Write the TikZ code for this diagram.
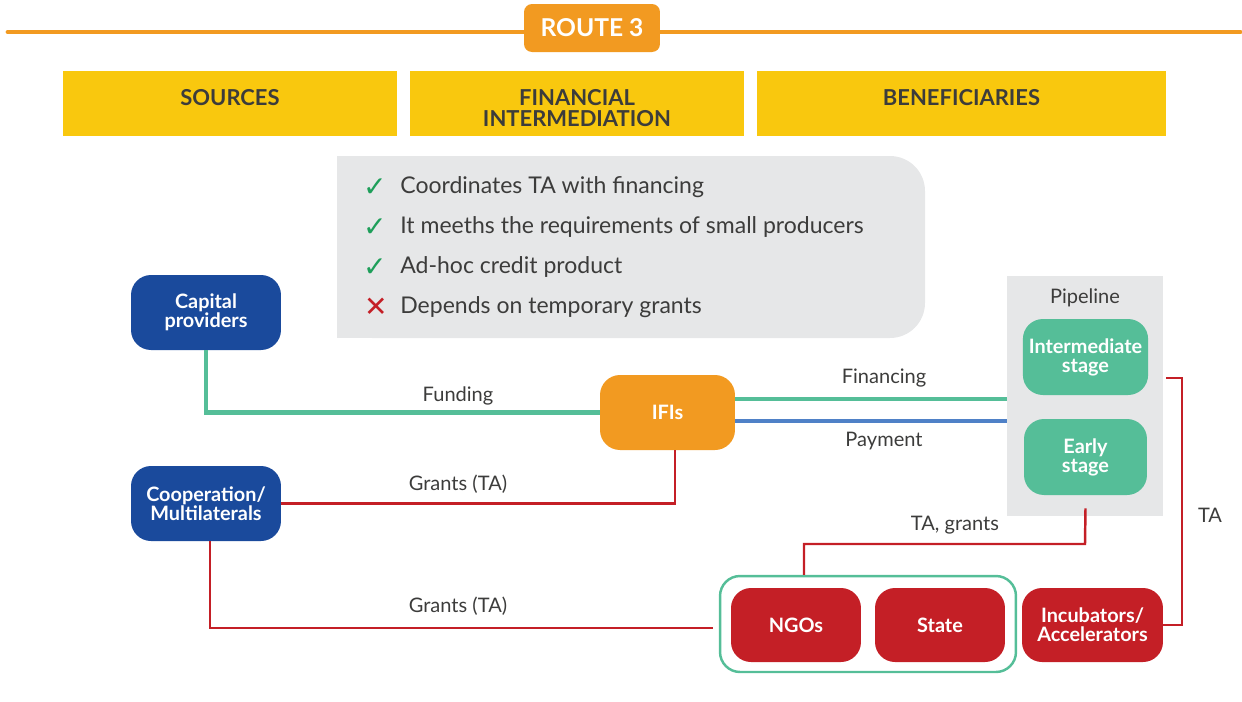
\documentclass[tikz,border=0pt]{standalone}
\usepackage{fontspec}
\setmainfont{Lato}
\newfontfamily\symfont{DejaVu Sans}
\usetikzlibrary{positioning}

\definecolor{routeorange}{HTML}{F29A21}
\definecolor{headyellow}{HTML}{F9C80E}
\definecolor{srcblue}{HTML}{1A4A9C}
\definecolor{stagegreen}{HTML}{55BE98}
\definecolor{benred}{HTML}{C41F26}
\definecolor{paylineblue}{HTML}{4F81C7}
\definecolor{panelgrey}{HTML}{E6E7E8}
\definecolor{txtgrey}{HTML}{3C3C3B}
\definecolor{tickgreen}{HTML}{1E9F5A}

\begin{document}
\begin{tikzpicture}[x=0.02cm,y=-0.02cm,
    headbox/.style={fill=headyellow, minimum height=1.3cm},
    headtxt/.style={align=center, text=txtgrey, font=\fontsize{12.5}{12}\selectfont\bfseries},
    actor/.style={rounded corners=0.4cm, align=center, text=white, minimum height=1.5cm,
        font=\fontsize{11.3}{10.8}\selectfont\bfseries},
    lbl/.style={text=txtgrey, font=\fontsize{11.4}{12}\selectfont},
    point/.style={text=txtgrey, anchor=west, inner xsep=0pt, font=\fontsize{13.1}{14}\selectfont},
    tickmark/.style={font=\symfont\fontsize{16}{16}\selectfont},
    fundline/.style={stagegreen, line width=2.8pt},
    payline/.style={paylineblue, line width=2.8pt},
    grantline/.style={benred, line width=1.4pt}]
    \useasboundingbox (0,0) rectangle (1242,701);

    % title bar
    \draw[routeorange, line width=2.8pt, line cap=round] (8,32) -- (1240,32);
    \node[fill=routeorange, rounded corners=0.16cm, minimum width=2.72cm, minimum height=0.96cm,
        text=white, font=\fontsize{14}{16}\selectfont\bfseries] (route) at (592,28) {ROUTE 3};

    % column heads
    \node[headbox, minimum width=6.68cm] (hsrc) at (230,103.5) {};
    \node[headbox, minimum width=6.68cm] (hfin) at (577,103.5) {};
    \node[headbox, minimum width=8.18cm] (hben) at (961.5,103.5) {};
    \node[headtxt] at (230,98) {SOURCES};
    \node[headtxt] at (577,108) {FINANCIAL\\INTERMEDIATION};
    \node[headtxt] at (961.5,98) {BENEFICIARIES};

    % pros and cons panel
    \fill[panelgrey, rounded corners=0.7cm] (337,156) rectangle (925,338);
    \fill[panelgrey] (337,156) rectangle (700,338);
    \node[tickgreen, tickmark] at (375,188) {✓};
    \node[tickgreen, tickmark] at (375,228) {✓};
    \node[tickgreen, tickmark] at (375,268) {✓};
    \node[benred, tickmark] at (376,307) {✕};
    \node[point] at (400,187) {Coordinates TA with financing};
    \node[point] at (400,227) {It meeths the requirements of small producers};
    \node[point] at (400,267) {Ad-hoc credit product};
    \node[point] at (400,307) {Depends on temporary grants};

    % sources
    \node[actor, fill=srcblue, minimum width=3cm] (cap) at (206,312.5) {Capital\\providers};
    \node[actor, fill=srcblue, minimum width=3cm] (coop) at (206,503.5) {Cooperation/\\Multilaterals};

    % intermediary
    \node[actor, fill=routeorange, minimum width=2.7cm] (ifi) at (667.5,412.5) {IFIs};

    % pipeline
    \node[fill=panelgrey, minimum width=3.12cm, minimum height=4.8cm] (pipe) at (1085,396) {};
    \node[lbl] at (1085,298) {Pipeline};
    \node[actor, fill=stagegreen, minimum width=2.46cm, minimum height=1.52cm] (inter) at (1085.5,357) {Intermediate\\stage};
    \node[actor, fill=stagegreen, minimum width=2.46cm, minimum height=1.52cm] (early) at (1085.5,457) {Early\\stage};

    % other beneficiaries
    \node[draw=stagegreen, line width=1.4pt, rounded corners=0.4cm, minimum width=5.92cm,
        minimum height=1.92cm] (group) at (868,624) {};
    \node[actor, fill=benred, minimum width=2.6cm, minimum height=1.48cm] (ngo) at (796,625) {NGOs};
    \node[actor, fill=benred, minimum width=2.6cm, minimum height=1.48cm] (state) at (940,625) {State};
    \node[actor, fill=benred, minimum width=2.82cm, minimum height=1.48cm] (incub) at (1092.5,625) {Incubators/\\Accelerators};

    % flows
    \draw[fundline] (cap) |- (ifi);
    \node[lbl] at (458,396) {Funding};
    \draw[fundline] ([yshift=0.27cm]ifi.east) -- ([yshift=0.27cm]ifi.east -| pipe.west);
    \node[lbl] at (884,378) {Financing};
    \draw[payline] ([yshift=-0.17cm]ifi.east) -- ([yshift=-0.17cm]ifi.east -| pipe.west);
    \node[lbl] at (884,441) {Payment};

    \draw[grantline] (coop.east) -| ([xshift=0.15cm]ifi.south);
    \node[lbl] at (458,484) {Grants (TA)};
    \draw[grantline] ([xshift=0.08cm]coop.south) |- ([xshift=-0.12cm,yshift=-0.08cm]group.west);
    \node[lbl] at (458,606) {Grants (TA)};

    \coordinate (tgturn) at (1085,544);
    \draw[grantline] ([yshift=-0.26cm]early.south) -- (tgturn) -| ([xshift=-1.28cm]group.north);
    \node[lbl] at (955,525) {TA, grants};

    \coordinate (tastart) at (1166,378);
    \coordinate (taturn) at (1182,378);
    \draw[grantline] (tastart) -- (taturn) |- (incub.east);
    \node[lbl] at (1210,515) {TA};
\end{tikzpicture}
\end{document}
